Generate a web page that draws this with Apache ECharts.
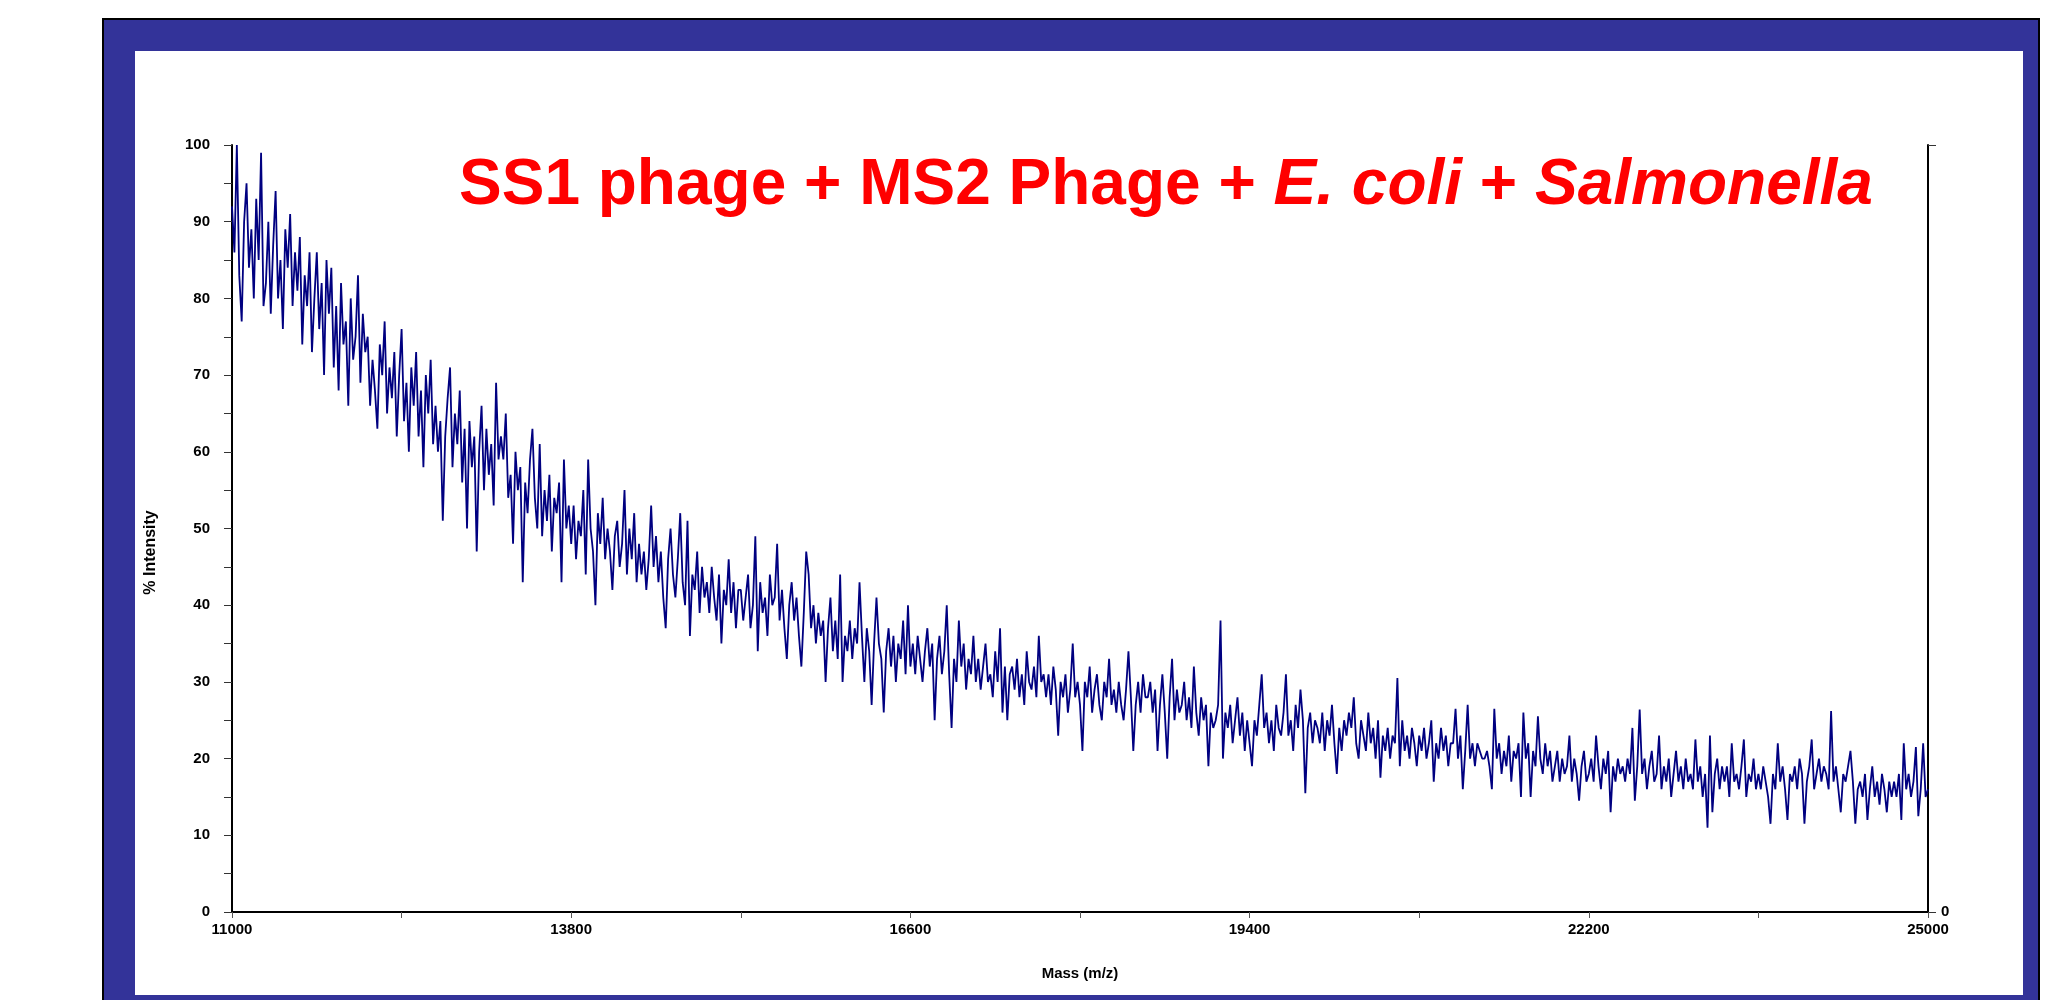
<!DOCTYPE html>
<html>
<head>
<meta charset="utf-8">
<script src="https://cdn.jsdelivr.net/npm/echarts@6/dist/echarts.min.js"></script>
<style>
  html, body { margin: 0; padding: 0; background: #fff; }
  #spectrum { width: 2045px; height: 1000px; }
</style>
</head>
<body>
<div id="spectrum"></div>
<script>
// mass axis: first sample, sampling step (Da) and tick labels
const massStart = 11000;
const massStep = 20;
const xTickLabels = [11000, 13800, 16600, 19400, 22200, 25000];
const yTickLabels = [0, 10, 20, 30, 40, 50, 60, 70, 80, 90, 100];

// % intensity, one value every 20 Da (14 per row = 280 Da)
const intensity = [
  92, 86, 100, 83, 77, 90, 95, 84, 89, 80, 93, 85, 99, 79,
  82, 90, 78, 87, 94, 80, 85, 76, 89, 84, 91, 79, 86, 81,
  88, 74, 83, 79, 86, 73, 80, 86, 76, 82, 70, 85, 78, 84,
  71, 79, 68, 82, 74, 77, 66, 80, 72, 75, 83, 69, 78, 73,
  75, 66, 72, 68, 63, 74, 70, 77, 65, 71, 67, 73, 62, 70,
  76, 64, 69, 60, 71, 66, 73, 62, 68, 58, 70, 65, 72, 61,
  66, 60, 64, 51, 62, 67, 71, 58, 65, 61, 68, 56, 63, 50,
  64, 58, 62, 47, 60, 66, 55, 63, 57, 61, 53, 69, 59, 62,
  59, 65, 54, 57, 48, 60, 55, 58, 43, 56, 52, 59, 63, 54,
  50, 61, 49, 55, 51, 57, 47, 54, 52, 56, 43, 59, 50, 53,
  48, 53, 46, 51, 49, 55, 44, 59, 50, 47, 40, 52, 48, 54,
  46, 50, 47, 42, 49, 51, 45, 48, 55, 44, 50, 46, 52, 43,
  48, 44, 47, 42, 46, 53, 45, 49, 43, 47, 41, 37, 46, 50,
  44, 41, 46, 52, 43, 40, 51, 36, 44, 42, 47, 39, 45, 41,
  43, 39, 45, 41, 38, 44, 35, 42, 40, 46, 39, 43, 37, 42,
  42, 38, 41, 44, 37, 40, 49, 34, 43, 39, 41, 36, 44, 40,
  41, 48, 38, 42, 37, 33, 40, 43, 38, 41, 36, 32, 39, 47,
  44, 37, 40, 35, 39, 36, 38, 30, 37, 41, 34, 38, 33, 44,
  30, 36, 34, 38, 33, 37, 35, 43, 36, 30, 37, 34, 27, 35,
  41, 35, 33, 26, 34, 37, 32, 36, 30, 35, 33, 38, 31, 40,
  32, 35, 31, 36, 33, 30, 34, 37, 32, 35, 25, 33, 36, 31,
  34, 40, 31, 24, 33, 30, 38, 32, 35, 29, 33, 31, 36, 30,
  33, 29, 32, 35, 30, 31, 28, 34, 30, 37, 26, 32, 25, 31,
  32, 29, 33, 28, 31, 27, 34, 30, 29, 32, 28, 36, 30, 31,
  28, 31, 27, 32, 29, 23, 30, 28, 31, 26, 29, 35, 28, 30,
  27, 21, 30, 28, 32, 26, 29, 31, 27, 25, 30, 28, 33, 27,
  29, 26, 30, 27, 25, 29, 34, 28, 21, 27, 30, 26, 31, 28,
  28, 30, 26, 29, 21, 27, 31, 26, 20, 28, 33, 25, 29, 26,
  27, 30, 25, 28, 24, 32, 26, 23, 28, 25, 27, 19, 26, 24,
  25, 27, 38, 20, 26, 24, 27, 22, 25, 28, 23, 26, 21, 25,
  22, 19, 25, 23, 27, 31, 24, 26, 22, 25, 21, 27, 24, 23,
  26, 31, 23, 25, 21, 27, 24, 29, 25, 15.5, 24, 26, 22, 25,
  24, 22, 26, 21, 25, 23, 27, 22, 18, 24, 21, 25, 23, 26,
  24, 28, 22, 20, 25, 23, 21, 26, 22, 24, 20, 25, 17.5, 23,
  21, 24, 20, 23, 22, 30.5, 19, 25, 21, 23, 20, 24, 22, 19,
  23, 21, 24, 20, 22, 25, 17, 22, 20, 24, 21, 23, 19, 22,
  22, 26.5, 20, 23, 16, 21, 27, 20, 22, 19, 22, 21, 20, 20,
  21, 19, 16, 26.5, 20, 22, 18, 21, 19, 23, 17, 21, 20, 22,
  15, 26, 20, 22, 15, 21, 19, 25.5, 20, 18, 22, 19, 21, 17,
  19, 21, 17, 20, 18, 19, 23, 17, 20, 18, 14.5, 19, 21, 17,
  18, 20, 17, 23, 19, 16, 20, 18, 21, 13, 19, 17, 20, 18,
  19, 17, 20, 18, 24, 14.5, 19, 26.4, 18, 20, 16, 19, 21, 17,
  18, 23, 16, 19, 17, 20, 15, 18, 21, 17, 19, 16, 20, 17,
  18, 16, 22.5, 17, 19, 15, 18, 11, 23, 13, 18, 20, 16, 19,
  17, 19, 15, 22, 17, 18, 16, 19, 22.5, 15, 18, 17, 20, 16,
  18, 16, 19, 17, 15, 11.5, 18, 16, 22, 17, 19, 16, 12, 18,
  17, 19, 16, 20, 18, 11.5, 17, 19, 22.5, 16, 18, 20, 17, 19,
  18, 16, 26.2, 17, 19, 16, 13, 18, 17, 19, 21, 17, 11.5, 16,
  17, 15, 18, 12, 16, 19, 15, 17, 14, 18, 16, 13, 17, 15,
  17, 15, 18, 12, 22, 16, 18, 15, 17, 21.5, 12.5, 16, 22, 15,
  16
];

const FONT = '"Liberation Sans", Arial, sans-serif';
const labelStyle = { color: '#000', fontFamily: FONT, fontWeight: 'bold', fontSize: 15 };

let chart = echarts.init(document.getElementById('spectrum'), null, { renderer: 'canvas' });

let series = intensity.map((v, i) => [massStart + i * massStep, v]);

let option = {
  animation: false,
  backgroundColor: '#fff',
  title: {
    text: '{n|SS1 phage + MS2 Phage + }{i|E. coli}{n| + }{i|Salmonella}',
    left: 459,
    top: 154,
    padding: 0,
    textStyle: {
      rich: {
        n: { color: '#ff0000', fontFamily: FONT, fontWeight: 'bold', fontSize: 64 },
        i: { color: '#ff0000', fontFamily: FONT, fontWeight: 'bold', fontStyle: 'italic', fontSize: 64 }
      }
    }
  },
  graphic: [
    // slide frame
    { type: 'rect', z: -10, silent: true,
      shape: { x: 103, y: 19, width: 1936, height: 990 },
      style: { fill: '#333399', stroke: '#000', lineWidth: 2 } },
    { type: 'rect', z: -9, silent: true,
      shape: { x: 135, y: 51, width: 1888, height: 944 },
      style: { fill: '#fff' } }
  ],
  grid: { left: 232, top: 145, width: 1696, height: 767, containLabel: false },
  xAxis: {
    type: 'value',
    min: 11000,
    max: 25000,
    interval: 1400,
    name: 'Mass (m/z)',
    nameLocation: 'middle',
    nameGap: 54,
    nameTextStyle: labelStyle,
    axisLine: { show: true, onZero: false, lineStyle: { color: '#000', width: 2 } },
    axisTick: { show: true, length: 6, lineStyle: { color: '#555', width: 1 } },
    axisLabel: Object.assign({
      margin: 10,
      formatter: v => xTickLabels.indexOf(v) >= 0 ? String(v) : ''
    }, labelStyle),
    splitLine: { show: false }
  },
  yAxis: [{
    type: 'value',
    min: 0,
    max: 100,
    interval: 5,
    name: '% Intensity',
    nameLocation: 'middle',
    nameGap: 73,
    nameRotate: 90,
    nameTextStyle: Object.assign({}, labelStyle, { fontSize: 16, padding: [0, 48, 0, 0] }),
    axisLine: { show: true, lineStyle: { color: '#000', width: 2 } },
    axisTick: { show: true, length: 8, lineStyle: { color: '#333', width: 1 } },
    axisLabel: Object.assign({
      margin: 22,
      formatter: v => yTickLabels.indexOf(v) >= 0 ? String(v) : ''
    }, labelStyle),
    splitLine: { show: false }
  }, {
    type: 'value',
    position: 'right',
    min: 0,
    max: 100,
    interval: 100,
    axisLine: { show: true, lineStyle: { color: '#000', width: 2 } },
    axisTick: { show: true, length: 8, lineStyle: { color: '#333', width: 1 } },
    axisLabel: Object.assign({
      margin: 13,
      formatter: v => v === 0 ? '0' : ''
    }, labelStyle),
    splitLine: { show: false }
  }],
  series: [{
    type: 'line',
    data: series,
    showSymbol: false,
    symbol: 'none',
    lineStyle: { color: '#000080', width: 1.8 },
    silent: true
  }]
};

chart.setOption(option);
</script>
</body>
</html>
